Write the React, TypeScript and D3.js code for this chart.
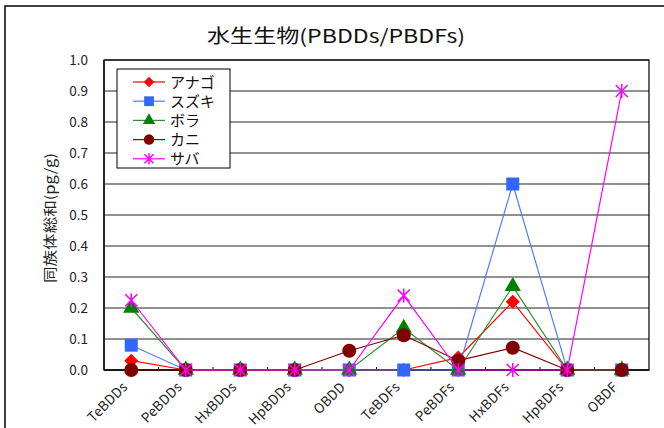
import * as d3 from "d3";

const title = "水生生物(PBDDs/PBDFs)";
const yTitle = "同族体総和(pg/g)";
const categories = [
  "TeBDDs",
  "PeBDDs",
  "HxBDDs",
  "HpBDDs",
  "OBDD",
  "TeBDFs",
  "PeBDFs",
  "HxBDFs",
  "HpBDFs",
  "OBDF",
];
const seriesNames = ["アナゴ", "スズキ", "ボラ", "カニ", "サバ"];
const anago = [0.03, 0, 0, 0, 0, 0, 0.04, 0.22, 0, 0];
const suzuki = [0.08, 0, 0, 0, 0, 0, 0, 0.6, 0, 0];
const bora = [0.2, 0, 0, 0, 0, 0.135, 0, 0.27, 0, 0];
const kani = [0, 0, 0, 0, 0.062, 0.112, 0.03, 0.072, 0, 0];
const saba = [0.225, 0, 0, 0, 0, 0.24, 0, 0, 0, 0.9];
const yTicks = [0, 0.1, 0.2, 0.3, 0.4, 0.5, 0.6, 0.7, 0.8, 0.9, 1.0];

const W = 664;
const H = 428;
const margin = { top: 60, right: 15, bottom: 58, left: 104 };
const font = "'Noto Sans CJK JP', 'Noto Sans', sans-serif";

type Kind = "diamond" | "square" | "triangle" | "circle" | "asterisk";
const styles: { line: string; fill: string; kind: Kind }[] = [
  { line: "#ff0000", fill: "#ff0000", kind: "diamond" },
  { line: "#4d7fff", fill: "#3366ff", kind: "square" },
  { line: "#2f8f2f", fill: "#008000", kind: "triangle" },
  { line: "#800000", fill: "#800000", kind: "circle" },
  { line: "#ff00ff", fill: "#ff00ff", kind: "asterisk" },
];

function Marker({ kind, color, x, y, s = 1 }: { kind: Kind; color: string; x: number; y: number; s?: number }) {
  if (kind === "diamond") {
    const r = 7 * s;
    return <path d={`M${x},${y - r}L${x + r},${y}L${x},${y + r}L${x - r},${y}Z`} fill={color} />;
  }
  if (kind === "square") {
    const r = 6.5 * s;
    return <rect x={x - r} y={y - r} width={2 * r} height={2 * r} fill={color} />;
  }
  if (kind === "triangle") {
    const p = d3.symbol(d3.symbolTriangle, 115 * s * s)()!;
    return <path d={p} transform={`translate(${x},${y})`} fill={color} />;
  }
  if (kind === "circle") {
    return <circle cx={x} cy={y} r={7 * s} fill={color} />;
  }
  const r = 6 * s;
  return (
    <path
      d={`M${x - r},${y - r}L${x + r},${y + r}M${x - r},${y + r}L${x + r},${y - r}M${x},${y - r - 1}L${x},${y + r + 1}`}
      stroke={color}
      strokeWidth={1.5}
      fill="none"
    />
  );
}

export default function App() {
  const data = [anago, suzuki, bora, kani, saba];
  const innerW = W - margin.left - margin.right;
  const innerH = H - margin.top - margin.bottom;
  const x = d3.scaleBand().domain(categories).range([margin.left, margin.left + innerW]);
  const y = d3.scaleLinear().domain([0, 1]).range([margin.top + innerH, margin.top]);
  const cx = (c: string) => x(c)! + x.bandwidth() / 2;
  const line = d3
    .line<number>()
    .x((_, i) => cx(categories[i]))
    .y((d) => y(d));

  return (
    <div style={{ position: "fixed", left: 0, top: 0 }}>
      <svg width={W} height={H} style={{ display: "block", fontFamily: font }}>
        <rect x={0} y={0} width={W} height={H} fill="#fff" />
        <rect x={5} y={6} width={W + 20} height={H + 20} fill="none" stroke="#000" strokeWidth={1.5} />
        <text x={336} y={43} textAnchor="middle" fontSize={19} fill="#111" textLength={258} lengthAdjust="spacingAndGlyphs">
          {title}
        </text>

        {/* grid */}
        {yTicks.slice(1).map((t) => (
          <line key={t} x1={margin.left} x2={margin.left + innerW} y1={y(t)} y2={y(t)} stroke="#222" strokeWidth={1} />
        ))}
        <rect x={margin.left} y={margin.top} width={innerW} height={innerH} fill="none" stroke="#000" strokeWidth={1.2} />
        <line x1={margin.left} x2={margin.left} y1={margin.top} y2={margin.top + innerH} stroke="#222" strokeWidth={1.8} />
        <line
          x1={margin.left}
          x2={margin.left + innerW}
          y1={margin.top + innerH}
          y2={margin.top + innerH}
          stroke="#000"
          strokeWidth={1.5}
        />
        {categories.slice(1).map((c) => (
          <line key={c} x1={x(c)} x2={x(c)} y1={y(0)} y2={y(0) - 3} stroke="#000" />
        ))}

        {yTicks.map((t) => (
          <text key={t} x={88} y={y(t) + 4.5} textAnchor="end" fontSize={13.5} fill="#222">
            {t.toFixed(1)}
          </text>
        ))}
        {categories.map((c) => (
          <text
            key={c}
            transform={`translate(${cx(c) - 3},${y(0) + 18}) rotate(-45)`}
            textAnchor="end"
            fontSize={13.5}
            letterSpacing={0.2}
            fill="#222"
          >
            {c}
          </text>
        ))}
        <text
          transform={`translate(55,${218}) rotate(-90)`}
          textAnchor="middle"
          fontSize={14}
          fill="#222"
          textLength={130}
          lengthAdjust="spacingAndGlyphs"
        >
          {yTitle}
        </text>

        {/* series */}
        {data.map((vals, si) => (
          <g key={seriesNames[si]}>
            <path d={line(vals)!} fill="none" stroke={styles[si].line} strokeWidth={1.2} />
            {vals.map((v, i) => (
              <Marker key={i} kind={styles[si].kind} color={styles[si].fill} x={cx(categories[i])} y={y(v)} />
            ))}
          </g>
        ))}

        {/* legend */}
        <rect x={117} y={69} width={113} height={99} fill="#fff" stroke="#000" strokeWidth={1} />
        {seriesNames.map((n, i) => {
          const ly = 82 + i * 19.2;
          return (
            <g key={n}>
              <line x1={133} x2={165} y1={ly} y2={ly} stroke={styles[i].line} strokeWidth={1.2} />
              <Marker kind={styles[i].kind} color={styles[i].fill} x={149} y={ly} s={0.75} />
              <text x={170} y={ly + 5.5} fontSize={15} fill="#111">
                {n}
              </text>
            </g>
          );
        })}
      </svg>
    </div>
  );
}
